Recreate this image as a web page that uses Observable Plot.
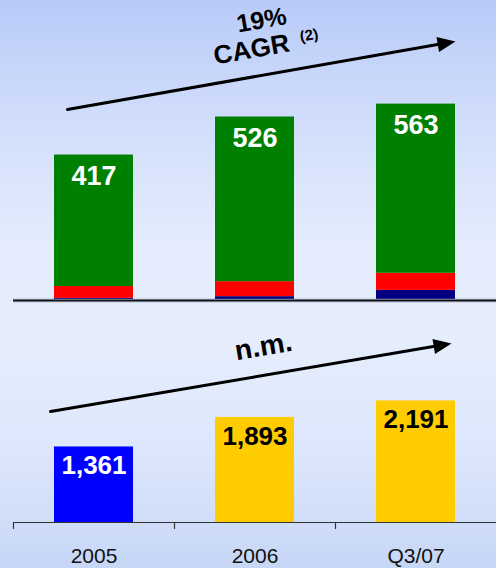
<!DOCTYPE html>
<html>
<head>
<meta charset="utf-8">
<script src="https://cdn.jsdelivr.net/npm/d3@7"></script>
<script src="https://cdn.jsdelivr.net/npm/@observablehq/plot@0.6"></script>
<style>
  html, body { margin: 0; padding: 0; }
  body {
    width: 496px;
    height: 568px;
    overflow: hidden;
    font-family: "Liberation Sans", Arial, sans-serif;
    background: linear-gradient(to bottom,
      #b8cbf8 0%, #d2defb 22%, #e3ebfd 42%, #e6eefd 58%,
      #dfe8fc 76%, #d2dff9 90%, #c6d6f6 100%);
  }
  #chart svg { display: block; }
</style>
</head>
<body>
<div id="chart"></div>
<script>
// Periods on the shared category axis
const periods = ["2005", "2006", "Q3/07"];

// Upper panel: stacked components per period
const segments = ["lower", "middle", "upper"];
const lowerValues = [6, 11, 29];
const middleValues = [34, 43, 49];
const upperValues = [377, 472, 485];
const upperTotals = [417, 526, 563];

// Lower panel: one value per period
const lowerPanelValues = [1361, 1893, 2191];

// Trend annotations (start / end levels in each panel's units)
const upperTrend = [{start: "2005", end: "Q3/07", from: 561, to: 723}];
const lowerTrend = [{start: "2005", end: "Q3/07", from: 2133, to: 3117}];
const upperTrendLabels = ["19%", "CAGR"];
const upperTrendNote = "(2)";
const lowerTrendLabel = "n.m.";

const font = "'Liberation Sans', Arial, sans-serif";
const fmt = d3.format(",");

// Filled arrow head, tip at the origin, pointing along +x
const arrowHead = {
  draw(context, size) {
    const l = Math.sqrt(size / Math.PI);
    context.moveTo(0, 0);
    context.lineTo(-l, -0.42 * l);
    context.lineTo(-l, 0.42 * l);
    context.closePath();
  }
};

// Long-format rows for the stack
const stackRows = [];
periods.forEach((p, i) => {
  stackRows.push({period: p, segment: "lower", value: lowerValues[i]});
  stackRows.push({period: p, segment: "middle", value: middleValues[i]});
  stackRows.push({period: p, segment: "upper", value: upperValues[i]});
});
const totalRows = periods.map((p, i) => ({period: p, total: upperTotals[i]}));
const lowerRows = periods.map((p, i) => ({period: p, value: lowerPanelValues[i]}));

const upperChart = Plot.plot({
  width: 496,
  height: 310,
  marginTop: 0,
  marginBottom: 10,
  marginLeft: 13,
  marginRight: 0,
  style: {background: "transparent", fontFamily: font, overflow: "visible"},
  x: {domain: periods, padding: 0, axis: null},
  y: {domain: [0, 860], axis: null},
  color: {domain: segments, range: ["#000080", "#ff0000", "#008000"]},
  marks: [
    Plot.barY(stackRows, {x: "period", y: "value", fill: "segment", insetLeft: 41, insetRight: 41}),
    Plot.ruleY([0], {stroke: "#8a93a8", strokeWidth: 3.5}),
    Plot.ruleY([0], {stroke: "#111", strokeWidth: 1.5}),
    Plot.text(totalRows, {
      x: "period", y: "total", text: d => fmt(d.total), dy: 21,
      lineAnchor: "middle", fill: "white", fontSize: 27, fontWeight: "bold"
    }),
    Plot.arrow(upperTrend, {
      x1: "start", y1: "from", x2: "end", y2: "to",
      stroke: "black", strokeWidth: 3, headLength: 0,
      insetStart: -26.9, insetEnd: -32
    }),
    Plot.dot(upperTrend, {
      x: "end", y: "to", symbol: arrowHead, r: 18, fill: "black", stroke: "none",
      rotate: -9.94, dx: 39.5, dy: -6.9
    }),
    Plot.text([upperTrendLabels[0]], {
      x: () => "2006", y: () => 803, text: d => d, dx: 6.5, rotate: -10,
      lineAnchor: "middle", fontSize: 25, fontWeight: "bold", fill: "black"
    }),
    Plot.text([upperTrendLabels[1]], {
      x: () => "2006", y: () => 719, text: d => d, dx: -3.5, rotate: -10,
      lineAnchor: "middle", fontSize: 26, fontWeight: "bold", fill: "black"
    }),
    Plot.text([upperTrendNote], {
      x: () => "2006", y: () => 760, text: d => d, dx: 54, rotate: -10,
      lineAnchor: "middle", fontSize: 15, fontWeight: "bold", fill: "black"
    })
  ]
});

const lowerChart = Plot.plot({
  width: 496,
  height: 258,
  marginTop: 0,
  marginBottom: 46,
  marginLeft: 13,
  marginRight: 0,
  style: {background: "transparent", fontFamily: font, overflow: "visible"},
  x: {domain: periods, padding: 0, label: null},
  y: {domain: [0, 3820], axis: null},
  color: {domain: periods, range: ["#0000ff", "#ffcc00", "#ffcc00"]},
  marks: [
    Plot.barY(lowerRows, {x: "period", y: "value", fill: "period", insetLeft: 41, insetRight: 41}),
    Plot.ruleY([0], {stroke: "#333", strokeWidth: 1.2}),
    Plot.ruleX(periods, {x: d => d, y1: 0, y2: -126, dx: -80.5, stroke: "#333", strokeWidth: 1.2}),
    Plot.axisX({tickSize: 0, tickPadding: 26, fontSize: 21, label: null, fill: "#111"}),
    Plot.text(lowerRows, {
      filter: d => d.period === "2005",
      x: "period", y: "value", text: d => fmt(d.value), dy: 19,
      lineAnchor: "middle", fill: "white", fontSize: 26, fontWeight: "bold"
    }),
    Plot.text(lowerRows, {
      filter: d => d.period !== "2005",
      x: "period", y: "value", text: d => fmt(d.value), dy: 19,
      lineAnchor: "middle", fill: "black", fontSize: 26, fontWeight: "bold"
    }),
    Plot.arrow(lowerTrend, {
      x1: "start", y1: "from", x2: "end", y2: "to",
      stroke: "black", strokeWidth: 3, headLength: 0,
      insetStart: -44.1, insetEnd: -28
    }),
    Plot.dot(lowerTrend, {
      x: "end", y: "to", symbol: arrowHead, r: 18, fill: "black", stroke: "none",
      rotate: -9.62, dx: 35.5, dy: -6.0
    }),
    Plot.text([lowerTrendLabel], {
      x: () => "2006", y: () => 3171, text: d => d, dx: 8.5, rotate: -9.6,
      lineAnchor: "middle", fontSize: 28, fontWeight: "bold", fill: "black"
    })
  ]
});

const root = document.getElementById("chart");
root.append(upperChart, lowerChart);
</script>
</body>
</html>
